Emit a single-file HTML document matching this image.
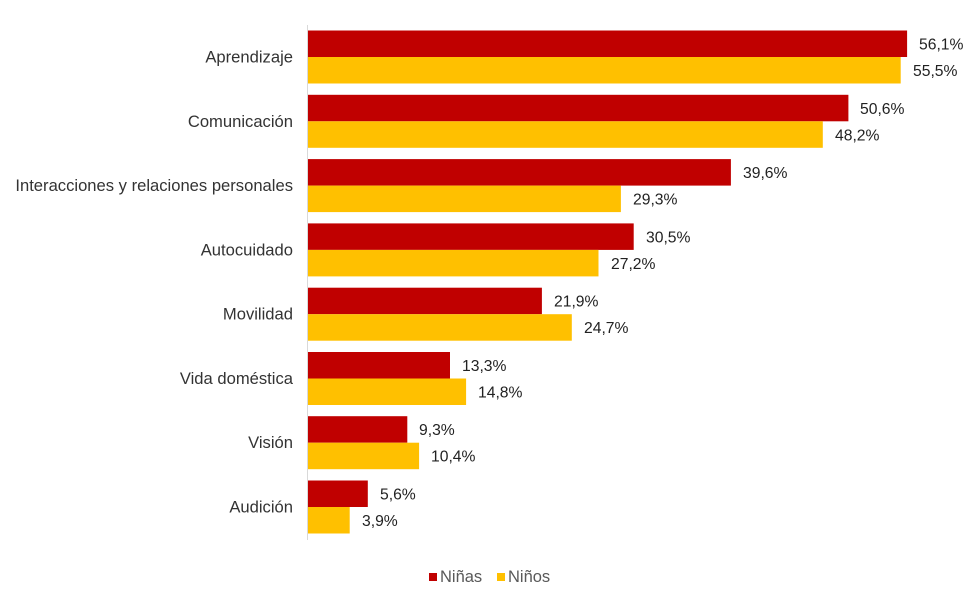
<!DOCTYPE html>
<html><head><style>
body{margin:0;background:#fff;}
svg text{font-family:"Liberation Sans",Arial,sans-serif;font-size:15.7px;}
svg text.c{font-size:16.6px;fill:#333;text-anchor:end;}
</style></head><body>
<svg width="972" height="606" xmlns="http://www.w3.org/2000/svg">
<line x1="307.5" y1="25" x2="307.5" y2="540" stroke="#d9d9d9" stroke-width="1"/>
<g fill="#c00000">
<rect x="308" y="30.5" width="599.1" height="26.5"/>
<rect x="308" y="94.8" width="540.4" height="26.5"/>
<rect x="308" y="159.1" width="422.9" height="26.5"/>
<rect x="308" y="223.4" width="325.7" height="26.5"/>
<rect x="308" y="287.7" width="233.9" height="26.5"/>
<rect x="308" y="352" width="142" height="26.5"/>
<rect x="308" y="416.2" width="99.3" height="26.5"/>
<rect x="308" y="480.5" width="59.8" height="26.5"/>
</g>
<g fill="#ffc000">
<rect x="308" y="57" width="592.7" height="26.5"/>
<rect x="308" y="121.3" width="514.8" height="26.5"/>
<rect x="308" y="185.6" width="312.9" height="26.5"/>
<rect x="308" y="249.9" width="290.5" height="26.5"/>
<rect x="308" y="314.2" width="263.8" height="26.5"/>
<rect x="308" y="378.5" width="158.1" height="26.5"/>
<rect x="308" y="442.7" width="111.1" height="26.5"/>
<rect x="308" y="507" width="41.7" height="26.5"/>
</g>
<g fill="#222">
<text x="919" y="49.5">56,1%</text><text x="913" y="76">55,5%</text>
<text x="860" y="113.8">50,6%</text><text x="835" y="140.3">48,2%</text>
<text x="743" y="178.1">39,6%</text><text x="633" y="204.6">29,3%</text>
<text x="646" y="242.4">30,5%</text><text x="611" y="268.9">27,2%</text>
<text x="554" y="306.7">21,9%</text><text x="584" y="333.2">24,7%</text>
<text x="462" y="371">13,3%</text><text x="478" y="397.5">14,8%</text>
<text x="419" y="435.2">9,3%</text><text x="431" y="461.7">10,4%</text>
<text x="380" y="499.5">5,6%</text><text x="362" y="526">3,9%</text>
</g>
<text class="c" x="293" y="62.5">Aprendizaje</text>
<text class="c" x="293" y="126.8">Comunicación</text>
<text class="c" x="293" y="191.1">Interacciones y relaciones personales</text>
<text class="c" x="293" y="255.4">Autocuidado</text>
<text class="c" x="293" y="319.7">Movilidad</text>
<text class="c" x="293" y="384">Vida doméstica</text>
<text class="c" x="293" y="448.2">Visión</text>
<text class="c" x="293" y="512.5">Audición</text>
<rect x="429" y="573" width="8" height="8" fill="#c00000"/>
<text x="440" y="582" fill="#595959" style="font-size:16.5px">Niñas</text>
<rect x="497" y="573" width="8" height="8" fill="#ffc000"/>
<text x="508" y="582" fill="#595959" style="font-size:16.5px">Niños</text>
</svg>
</body></html>
